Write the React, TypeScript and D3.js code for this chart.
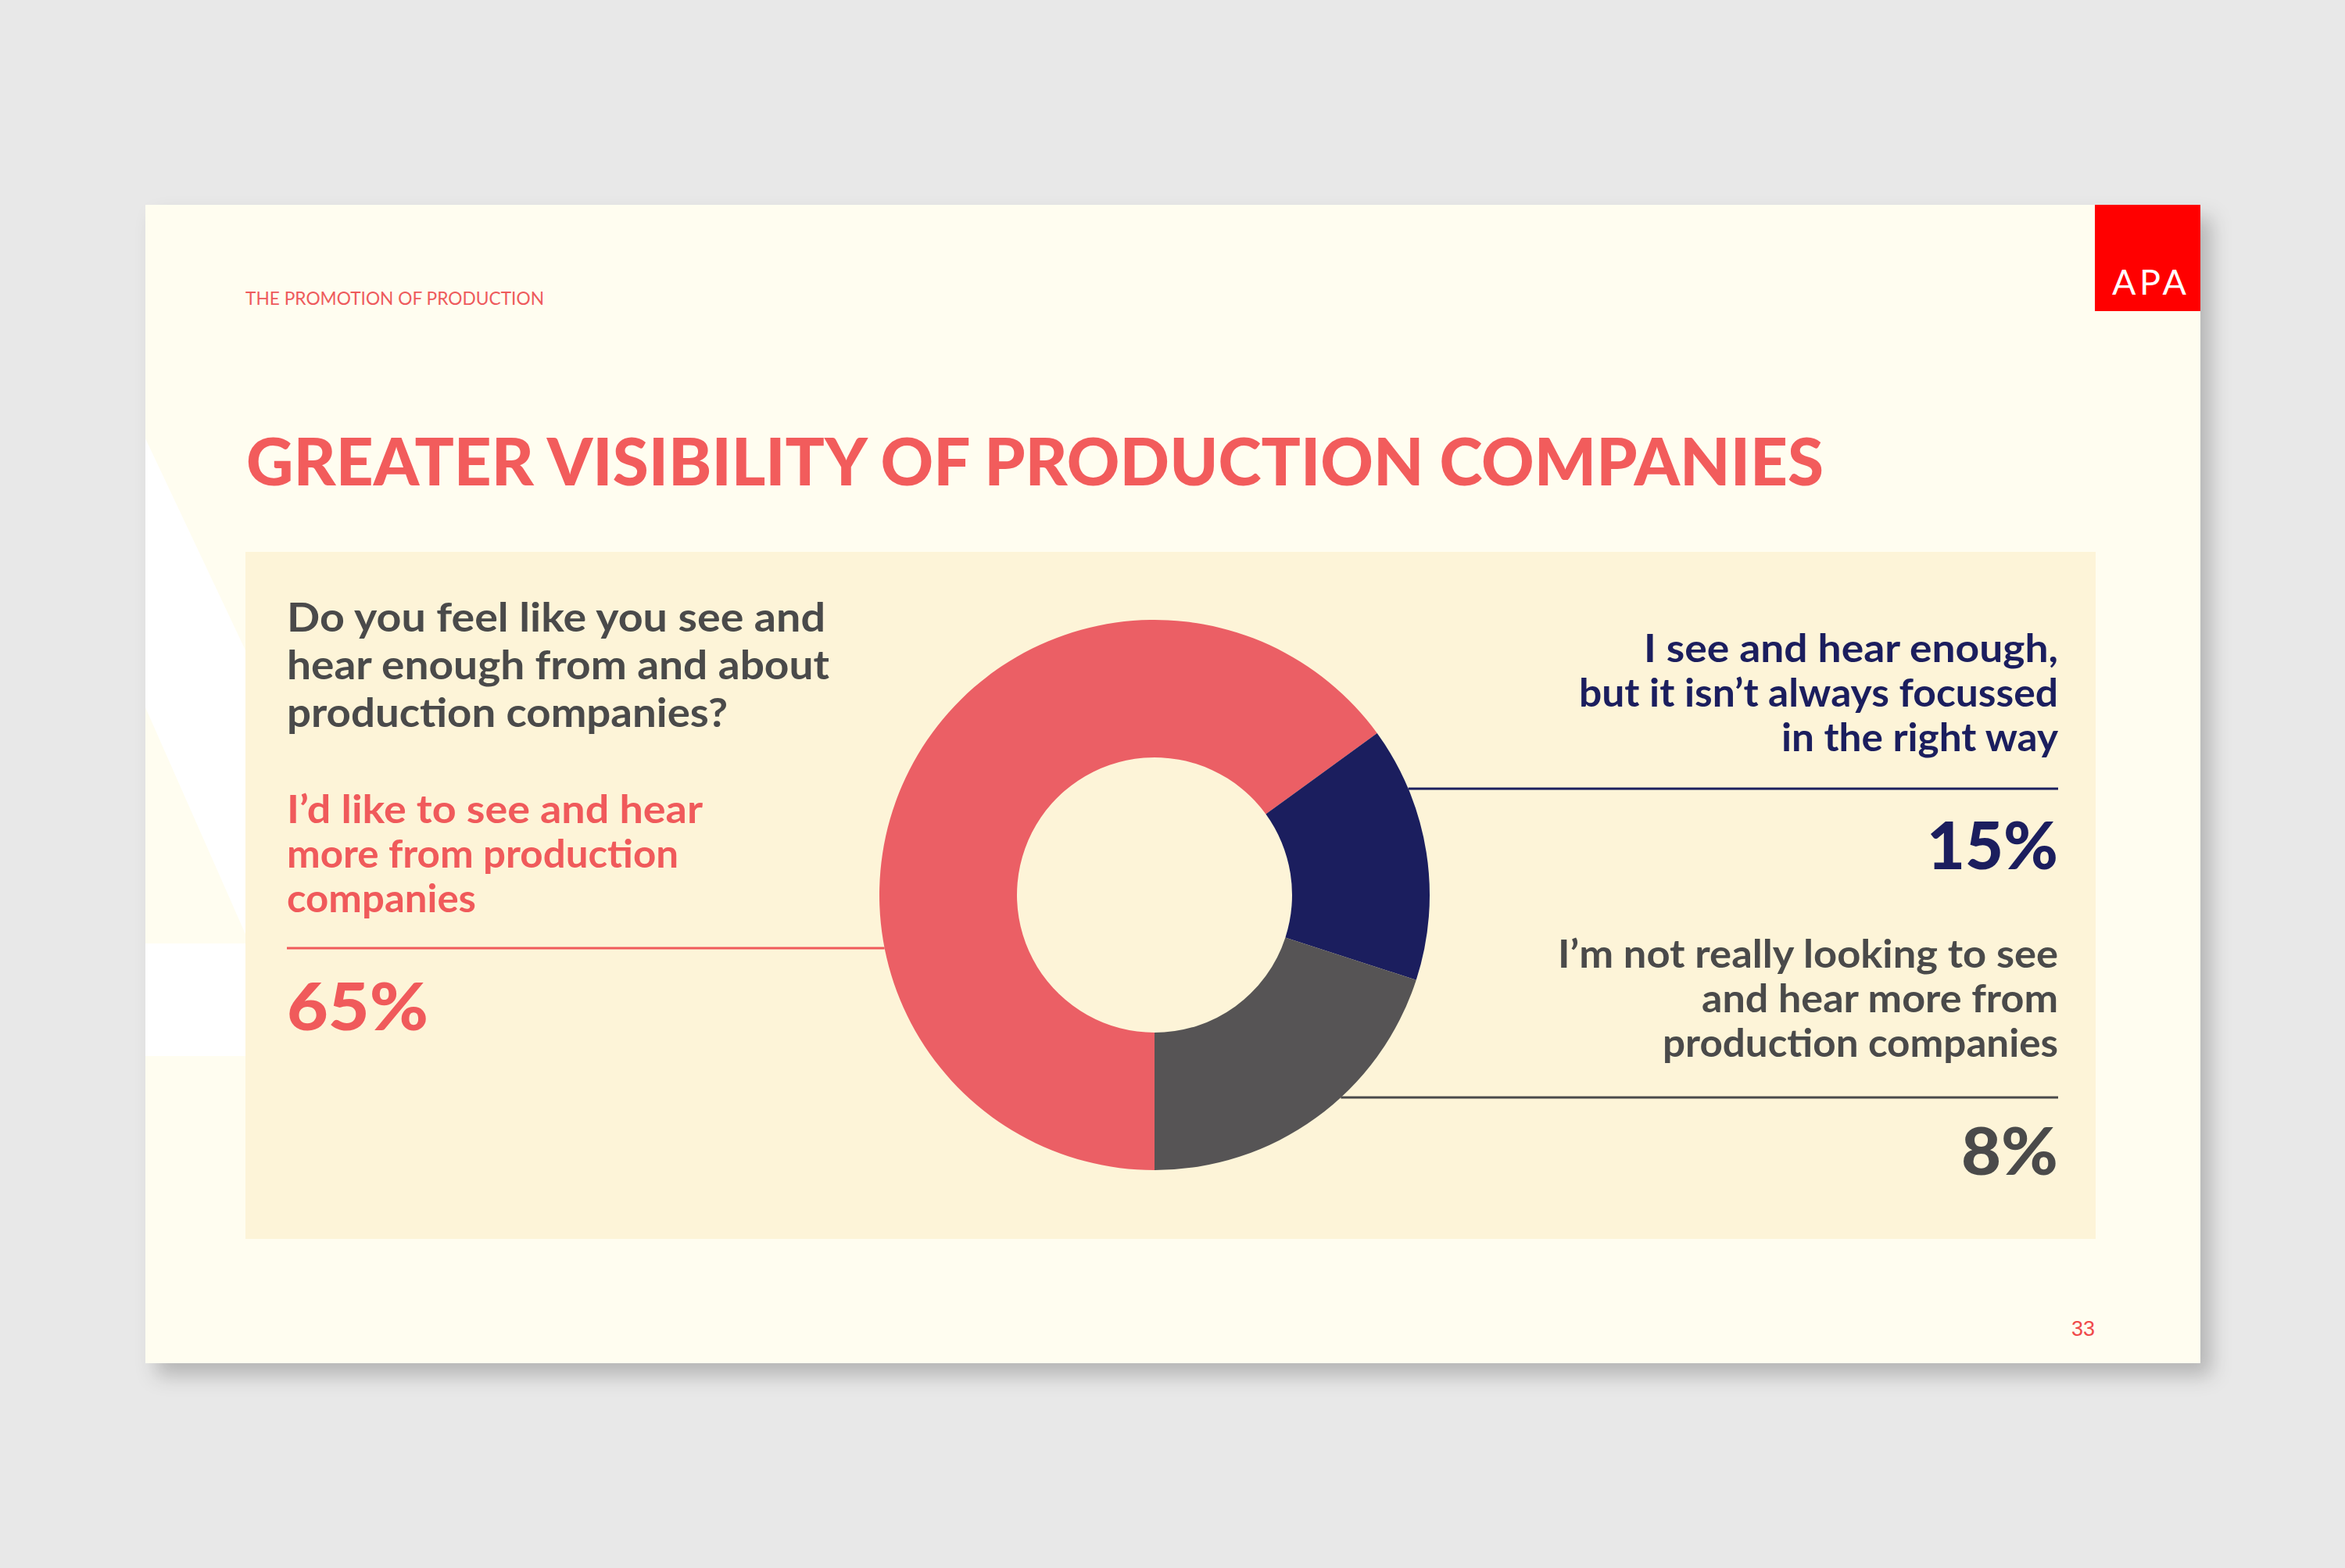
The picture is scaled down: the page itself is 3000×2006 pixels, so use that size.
import React from 'react';
import * as d3 from 'd3';

const W = 3000;
const H = 2006;

// survey answers, drawn round the ring clockwise from six o'clock
const answerKeys = ['more', 'enoughButFocus', 'notLooking'];
const sliceValues = [65, 15, 20];
const shareLabels = ['65%', '15%', '8%'];
const answerLines = [
  ['I’d like to see and hear', 'more from production', 'companies'],
  ['I see and hear enough,', 'but it isn’t always focussed', 'in the right way'],
  ['I’m not really looking to see', 'and hear more from', 'production companies'],
];
const questionLines = ['Do you feel like you see and', 'hear enough from and about', 'production companies?'];
const kicker = 'THE PROMOTION OF PRODUCTION';
const heading = 'GREATER VISIBILITY OF PRODUCTION COMPANIES';
const pageNumber = '33';

const sliceColors = ['#EB5F65', '#1B1E5E', '#565455'];
const textColors = ['#F05A5B', '#1B1E5E', '#4A4A4A'];

const FONT = 'Lato, "Noto Sans", sans-serif';

// slide geometry (px in the 3000 x 2006 frame)
const slide = { x: 186, y: 262, w: 2629, h: 1482 };
const panel = { x: 314, y: 706, w: 2367, h: 879 };
const donut = { cx: 1477, cy: 1145, inner: 176, outer: 352 };

// where each answer block sits
const blocks = [
  { x: 367, anchor: 'start', first: 1053, rule: 1213, pct: 1318, widths: [532, 501, 242], pctW: 181 },
  { x: 2633, anchor: 'end', first: 847, rule: 1009, pct: 1112, widths: [530, 613, 354], pctW: 168 },
  { x: 2633, anchor: 'end', first: 1238, rule: 1404, pct: 1503, widths: [640, 456, 506], pctW: 124 },
];
const questionWidths = [689, 694, 564];

const pie = d3.pie<number>().sort(null).value((d) => d).startAngle(Math.PI).endAngle(Math.PI * 3);
const arc = d3.arc<d3.PieArcDatum<number>>().innerRadius(donut.inner).outerRadius(donut.outer);

// rule stops where it meets the outside of the ring
const ringEdge = (y: number, side: number) => {
  const dy = y - donut.cy;
  return donut.cx + side * Math.sqrt(Math.max(0, donut.outer * donut.outer - dy * dy));
};

export default function App() {
  const slices = pie(sliceValues);

  return (
    <svg
      width={W}
      height={H}
      viewBox={`0 0 ${W} ${H}`}
      style={{ position: 'absolute', left: 0, top: 0, display: 'block' }}
    >
      <defs>
        <filter id="slideShadow" x="-5%" y="-5%" width="115%" height="120%">
          <feDropShadow dx="14" dy="16" stdDeviation="13" floodColor="#000" floodOpacity="0.22" />
        </filter>
      </defs>

      <rect width={W} height={H} fill="#E8E8E8" />
      <rect x={slide.x} y={slide.y} width={slide.w} height={slide.h} fill="#FFFDF0" filter="url(#slideShadow)" />

      {/* pale white shapes behind the panel on the left */}
      <polygon
        points={`${slide.x},561 ${panel.x},832 ${panel.x},1195 ${slide.x},905`}
        fill="#FFFFFF"
      />
      <rect x={slide.x} y={1207} width={panel.x - slide.x} height={144} fill="#FFFFFF" />

      {/* logo */}
      <rect x={2680} y={slide.y} width={slide.x + slide.w - 2680} height={136} fill="#FF0000" />
      <text
        x={2702}
        y={377}
        fill="#FFFFFF"
        fontFamily={FONT}
        fontSize={45}
        textLength={95}
        lengthAdjust="spacing"
      >
        APA
      </text>

      <text x={314} y={390} fill="#EE5A5C" fontFamily={FONT} fontSize={23} textLength={382} lengthAdjust="spacingAndGlyphs">
        {kicker}
      </text>
      <text
        x={315}
        y={621}
        fill="#F25C5C"
        fontFamily={FONT}
        fontWeight={900}
        fontSize={83}
        textLength={2018}
        lengthAdjust="spacingAndGlyphs"
      >
        {heading}
      </text>

      <rect x={panel.x} y={panel.y} width={panel.w} height={panel.h} fill="#FDF4D8" />

      {questionLines.map((line, i) => (
        <text
          key={line}
          x={367}
          y={808 + i * 61}
          fill="#4A4A4A"
          fontFamily={FONT}
          fontWeight={700}
          fontSize={52}
          textLength={questionWidths[i]}
          lengthAdjust="spacingAndGlyphs"
        >
          {line}
        </text>
      ))}

      {blocks.map((b, i) => (
        <line
          key={answerKeys[i]}
          x1={b.x}
          x2={ringEdge(b.rule, b.anchor === 'start' ? -1 : 1)}
          y1={b.rule}
          y2={b.rule}
          stroke={textColors[i]}
          strokeWidth={3}
        />
      ))}

      <g transform={`translate(${donut.cx},${donut.cy})`}>
        {slices.map((s, i) => (
          <path key={answerKeys[i]} d={arc(s) ?? ''} fill={sliceColors[i]} />
        ))}
      </g>

      {blocks.map((b, i) => (
        <g key={answerKeys[i]} fill={textColors[i]} fontFamily={FONT} textAnchor={b.anchor}>
          {answerLines[i].map((line, j) => (
            <text
              key={line}
              x={b.x}
              y={b.first + j * 57}
              fontWeight={700}
              fontSize={49}
              textLength={b.widths[j]}
              lengthAdjust="spacingAndGlyphs"
            >
              {line}
            </text>
          ))}
          <text
            x={b.x}
            y={b.pct}
            fontWeight={900}
            fontSize={84}
            textLength={b.pctW}
            lengthAdjust="spacingAndGlyphs"
          >
            {shareLabels[i]}
          </text>
        </g>
      ))}

      <text
        x={2680}
        y={1709}
        textAnchor="end"
        fill="#F04A4A"
        fontFamily='"Liberation Sans", Arial, sans-serif'
        fontSize={27}
      >
        {pageNumber}
      </text>
    </svg>
  );
}
